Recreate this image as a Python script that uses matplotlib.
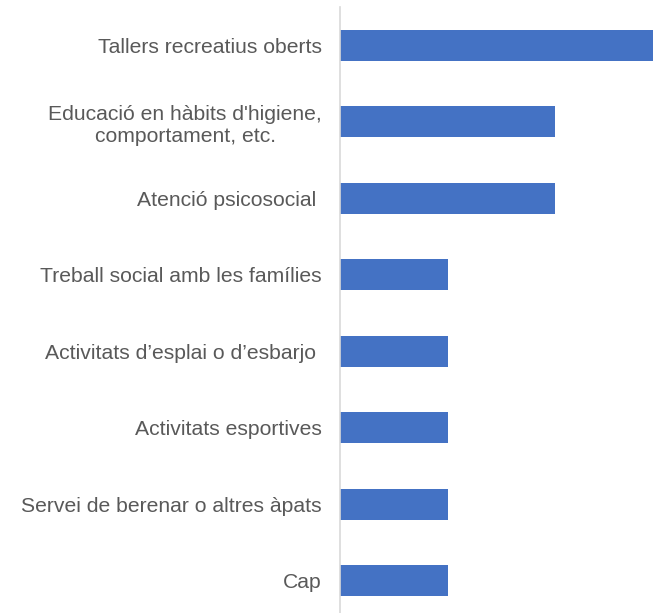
import matplotlib
matplotlib.use("Agg")
import matplotlib.pyplot as plt

categories = [
    "Tallers recreatius oberts",
    "Educació en hàbits d'higiene,\ncomportament, etc.",
    "Atenció psicosocial ",
    "Treball social amb les famílies",
    "Activitats d’esplai o d’esbarjo ",
    "Activitats esportives",
    "Servei de berenar o altres àpats",
    "Cap",
]
values = [3, 2, 2, 1, 1, 1, 1, 1]

plt.rcParams['font.family'] = ['Liberation Sans', 'DejaVu Sans']

fig = plt.figure(figsize=(6.53, 6.13), dpi=100)
ax = fig.add_axes([340 / 653, 1 - 619 / 613, 1 - 340 / 653, (619 - 7.25) / 613])
ax.barh(range(len(categories)), values, height=0.405, color="#4472C4")
ax.set_ylim(7.5, -0.5)
ax.set_xlim(0, 313 / 107.5)
ax.set_yticks(range(len(categories)))
labels = ax.set_yticklabels(categories, fontsize=15.2, color="#595959")
for t in labels:
    t.set_multialignment('center')
    t.set_linespacing(1.22)
ax.tick_params(axis='y', length=0, pad=13)
ax.set_xticks([])
for s in ['top', 'right', 'bottom']:
    ax.spines[s].set_visible(False)
ax.spines['left'].set_color("#d9d9d9")
ax.spines['left'].set_linewidth(1.2)
fig.savefig("out.png", dpi=100)
